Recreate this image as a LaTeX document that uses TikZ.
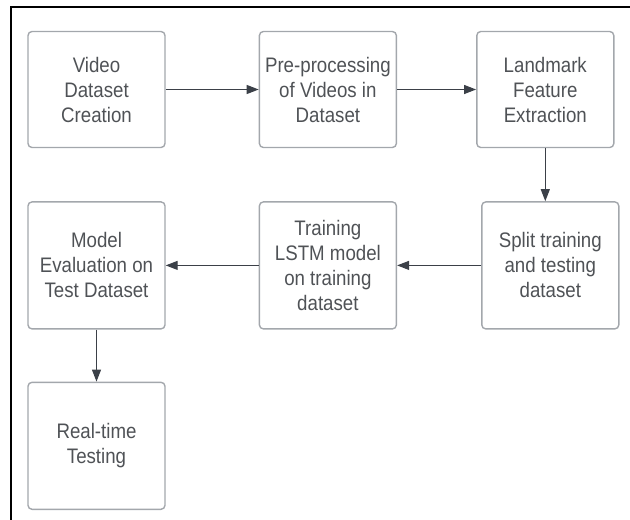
\documentclass[tikz,border=0pt]{standalone}
\usepackage{xcolor}
\usepackage{fontspec}
\setmainfont{Liberation Sans}[FakeStretch=0.89]
\usepackage{tikz}
\usetikzlibrary{arrows.meta,positioning}

\definecolor{boxline}{HTML}{A3A7AC}
\definecolor{boxtext}{HTML}{4F5256}
\definecolor{flowline}{HTML}{3B4048}

\begin{document}
\begin{tikzpicture}[
  x=1pt,y=-1pt,
  stage/.style={draw=boxline,line width=1.4pt,rounded corners=4pt,minimum width=137pt,minimum height=116pt,align=center,text=boxtext,font=\fontsize{21}{25}\selectfont},
  tall/.style={minimum height=127pt},
  flow/.style={-{Triangle[length=12pt,width=9pt]},draw=flowline,line width=1.1pt},
  frame/.style={draw=black,line width=2pt}
]
  \useasboundingbox (0,0) rectangle (630,520);
  \draw[frame] (11,520) -- (11,7) -- (630,7);

  \node[stage] (vid) at (96.5,89.5) {Video\\Dataset\\Creation};
  \node[stage, right=93pt of vid] (pre) {Pre-processing\\of Videos in\\Dataset};
  \node[stage, right=79pt of pre] (land) {Landmark\\Feature\\Extraction};
  \node[stage, tall, below=53pt of land, xshift=5pt] (split) {Split training\\and testing\\dataset};
  \node[stage, tall, below=53pt of pre] (train) {Training\\LSTM model\\on training\\dataset};
  \node[stage, tall, below=53pt of vid] (eval) {Model\\Evaluation on\\Test Dataset};
  \node[stage, tall, below=52pt of eval] (rt) {Real-time\\Testing};

  \draw[flow] (vid) -- (pre);
  \draw[flow] (pre) -- (land);
  \draw[flow] (land.south) -- (land.south |- split.north);
  \draw[flow] (split) -- (train);
  \draw[flow] (train) -- (eval);
  \draw[flow] (eval) -- (rt);
\end{tikzpicture}
\end{document}
